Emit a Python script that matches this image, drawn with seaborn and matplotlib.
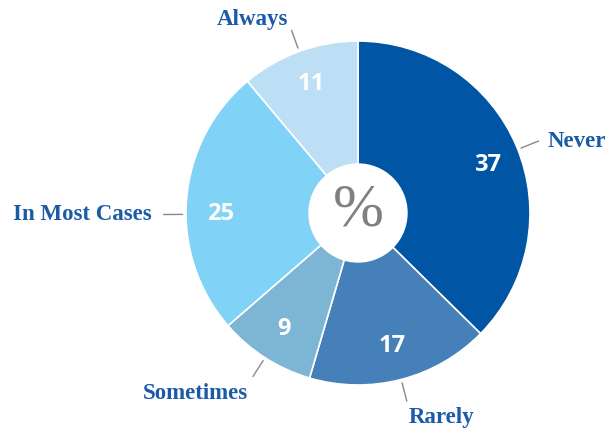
import numpy as np
import matplotlib
matplotlib.use("Agg")
import matplotlib.pyplot as plt
import seaborn as sns

# Data (percent, clockwise from top)
categories = ["Never", "Rarely", "Sometimes", "In Most Cases", "Always"]
values = [37, 17, 9, 25, 11]
center_label = "%"

colors = ["#0055a5", "#4580b8", "#7db5d4", "#80d3f7", "#bcdff5"]
label_color = "#1a5aa6"

sns.set_theme(style="white")
plt.rcParams["font.family"] = ["Liberation Serif", "DejaVu Serif"]

fig = plt.figure(figsize=(6.07, 4.32), dpi=100)
ax = fig.add_axes([0, 0, 1, 1])

cx, cy, r = 358, 219, 172
wedges, _, autotexts = ax.pie(
    values,
    colors=colors,
    startangle=90,
    counterclock=False,
    center=(cx, cy),
    radius=r,
    autopct="%1.0f",
    pctdistance=0.8,
    wedgeprops=dict(edgecolor="white", linewidth=1.2),
)

# small angle shifts (degrees) for label placement
value_nudge = {"Never": -2.5, "In Most Cases": 5}
label_nudge = {"Never": -1, "In Most Cases": 5}

# value labels inside the slices
for w, t, v, name in zip(wedges, autotexts, values, categories):
    ang = np.deg2rad((w.theta1 + w.theta2) / 2 + value_nudge.get(name, 0))
    t.set_position((cx + 0.8 * r * np.cos(ang), cy + 0.8 * r * np.sin(ang)))
    t.set_text(str(v))
    t.set_color("white")
    t.set_fontfamily("Open Sans")
    t.set_fontweight("bold")
    t.set_fontsize(17)

# hole in the middle
ax.add_patch(plt.Circle((cx, cy), 49, color="white", zorder=5))
ax.text(cx, cy + 2, center_label, ha="center", va="center", fontsize=44,
        color="#808080", zorder=6)

# outside labels with leader lines
for w, name in zip(wedges, categories):
    ang = np.deg2rad((w.theta1 + w.theta2) / 2 + label_nudge.get(name, 0))
    c, s = np.cos(ang), np.sin(ang)
    x0, y0 = cx + r * 1.02 * c, cy + r * 1.02 * s
    x1, y1 = cx + r * 1.13 * c, cy + r * 1.13 * s
    ax.plot([x0, x1], [y0, y1], color="#888888", lw=1)
    if s > 0.5:
        va, dy, gap = "bottom", 0, 0
    elif s < -0.5:
        va, dy, gap = "top", -6, 2
    else:
        va, dy, gap = "center", 0, 9
    if c > 0.05:
        ha, dx = "left", gap
    elif c < -0.05:
        ha, dx = "right", -gap - 3
    else:
        ha, dx = "center", 0
    ax.text(x1 + dx, y1 + dy, name, ha=ha, va=va, fontsize=16.5,
            fontweight="bold", color=label_color)

ax.set_xlim(0, 607)
ax.set_ylim(0, 432)
ax.set_aspect("equal")
ax.axis("off")

plt.savefig("out.png", dpi=100)
